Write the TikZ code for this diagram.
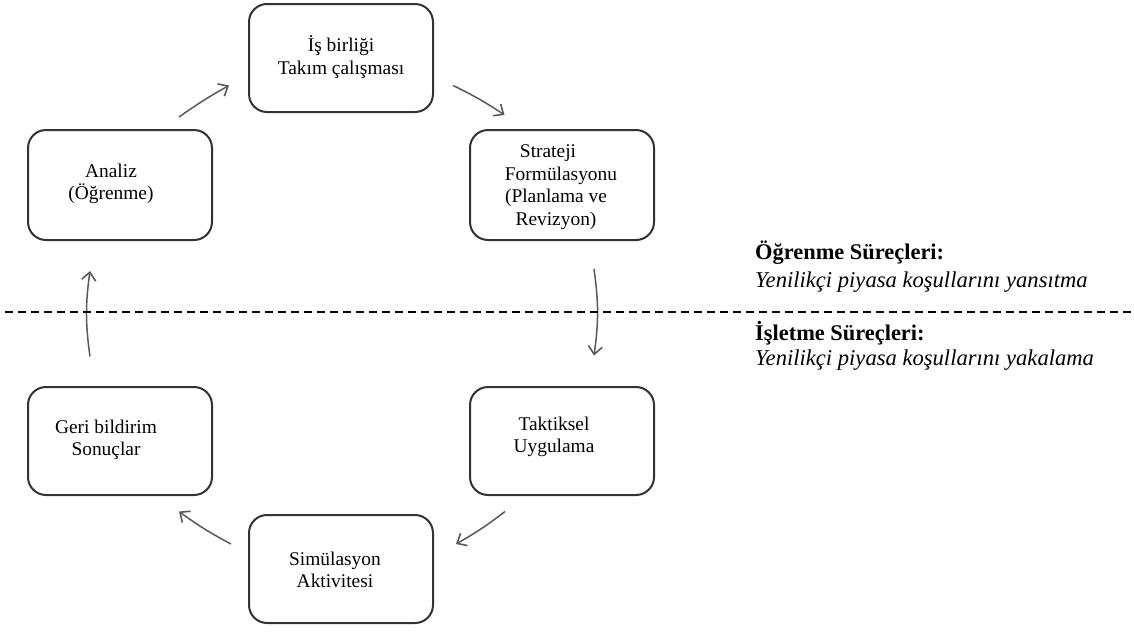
\documentclass[tikz,border=0pt]{standalone}
\usepackage{fontspec}
\setmainfont{Liberation Serif}
\usepackage{tikz}
\usetikzlibrary{arrows.meta,calc}

\tikzset{
	stagebox/.style={draw=black!80, line width=2pt, rounded corners=18pt, minimum width=184pt, minimum height=108pt},
	stagetext/.style={align=center, font=\fontsize{19.4}{22.5}\selectfont, inner sep=0pt},
	flow/.style={draw=black!65, line width=1.5pt, -{Straight Barb[length=8pt,width=14pt,line width=1.6pt]}},
	sidehead/.style={anchor=west, inner sep=0pt, font=\fontsize{22.4}{26}\selectfont\bfseries},
	sidenote/.style={anchor=west, inner sep=0pt, font=\fontsize{22.6}{26}\selectfont\itshape}
}

\begin{document}
\begin{tikzpicture}[x=1pt, y=-1pt]
		%%%%% START %%%%%
		\useasboundingbox (0, 0) rectangle (1134, 635);
		
		\node[stagebox] (isbirligi) at (341, 58) {};
		\node[stagebox, minimum height=110pt] (strateji) at (562, 185) {};
		\node[stagebox, minimum height=110pt] (analiz) at (120, 185) {};
		\node[stagebox] (taktik) at (562, 441) {};
		\node[stagebox] (geri) at (120, 441) {};
		\node[stagebox] (simul) at (341, 569) {};
		
		\node[stagetext] at (341, 57) {İş birliği\\Takım çalışması};
		\node[stagetext] at (556, 187) {Strateji\hspace*{16pt}\\\hspace*{10pt}Formülasyonu\\(Planlama ve\\Revizyon)};
		\node[stagetext] at (111, 184) {Analiz\\(Öğrenme)};
		\node[stagetext] at (554, 437) {Taktiksel\\Uygulama};
		\node[stagetext] at (106, 440) {Geri bildirim\\Sonuçlar};
		\node[stagetext] at (335, 570) {Simülasyon\\Aktivitesi};
		
		% cycle arrows
		\draw[flow] ([shift={(-34,-12)}]analiz.north east) to[bend left=3] ([shift={(-19,-27.5)}]isbirligi.south west);
		\draw[flow] ([shift={(19,-27.5)}]isbirligi.south east) to[bend left=4] ([shift={(35.5,-14)}]strateji.north west);
		\draw[flow] ([shift={(32,28)}]strateji.south) to[bend left=8] ([shift={(32,-30.5)}]taktik.north);
		\draw[flow] ([shift={(-57,15.5)}]taktik.south) to[bend left=4] ([shift={(22,30)}]simul.north east);
		\draw[flow] ([shift={(-17,30)}]simul.north west) to[bend left=4] ([shift={(-34,15.5)}]geri.south east);
		\draw[flow] ([shift={(-30,-29.5)}]geri.north) to[bend left=8] ([shift={(-30,30)}]analiz.south);
		
		% split line
		\coordinate (splitL) at (5, 312);
		\coordinate (splitR) at (1132, 312);
		\draw[line width=2pt, dash pattern=on 8pt off 5pt] (splitL) -- (splitR);
		
		\node[sidehead] (ogrhead) at (755, 253) {Öğrenme Süreçleri:};
		\node[sidenote] (ogrnote) at (755, 282) {Yenilikçi piyasa koşullarını yansıtma};
		\node[sidehead] (islhead) at (755, 333) {İşletme Süreçleri:};
		\node[sidenote] (islnote) at (755, 360) {Yenilikçi piyasa koşullarını yakalama};
		
		%%%%% END %%%%%
\end{tikzpicture}
\end{document}
